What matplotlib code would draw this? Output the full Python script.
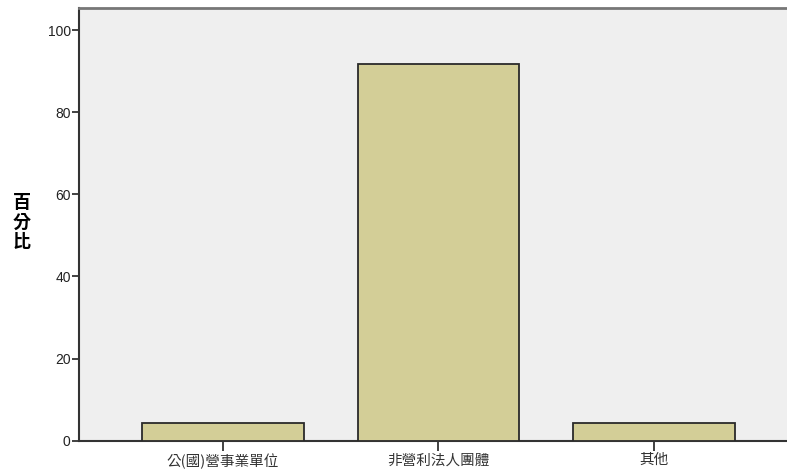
import matplotlib
matplotlib.use("Agg")
import matplotlib.pyplot as plt

categories = ["公(國)營事業單位", "非營利法人團體", "其他"]
values = [4.2, 91.7, 4.2]
yticks = [0, 20, 40, 60, 80, 100]
ylabel = "百分比"

plt.rcParams['font.family'] = ['Noto Sans CJK TC', 'DejaVu Sans']

W, H = 787, 471
fig = plt.figure(figsize=(W / 100, H / 100), dpi=100)
fig.patch.set_facecolor("white")

left, right, top, bottom = 79, 787, 8, 440.7
ax = fig.add_axes([left / W, (H - bottom) / H, (right - left) / W, (bottom - top) / H])
ax.set_facecolor("#EFEFEF")

x = list(range(len(categories)))
ax.bar(x, values, width=0.75, color="#D3CE97", edgecolor="#2a2a2a", linewidth=1.3, zorder=3)

ax.set_xlim(-0.668, 2.617)
ax.set_ylim(0, 105.4)
ax.set_yticks(yticks)
ax.set_yticklabels([str(t) for t in yticks], fontsize=10, color="#222222",
                   family=["Liberation Sans", "DejaVu Sans"])
ax.set_xticks(x)
ax.set_xticklabels(categories, fontsize=10.5, color="#333333")

ax.tick_params(axis="y", direction="out", length=5, width=1.3, color="#333333", pad=1)
ax.tick_params(axis="x", direction="out", length=7, width=1.3, color="#333333", pad=2)

for s in ["left", "bottom"]:
    ax.spines[s].set_color("#333333")
    ax.spines[s].set_linewidth(1.5)
ax.spines["top"].set_color("#777777")
ax.spines["top"].set_linewidth(2)
ax.spines["right"].set_visible(False)

fig.text(22 / W, 1 - 222 / H, "\n".join(ylabel), fontsize=13, fontweight="bold",
         ha="center", va="center", linespacing=1.05, color="black",
         family=["Noto Sans CJK TC", "DejaVu Sans"])

fig.savefig("out.png", dpi=100)
